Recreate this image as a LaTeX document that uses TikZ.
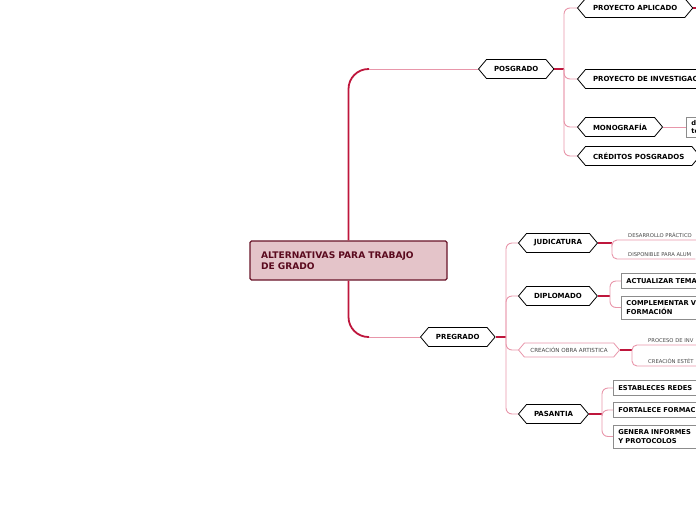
\documentclass[tikz,border=0pt]{standalone}
\usepackage{fontspec}
\setmainfont{DejaVu Sans}
\usetikzlibrary{shapes.symbols,positioning}
\definecolor{trunkred}{RGB}{190,22,60}
\definecolor{twigpink}{RGB}{232,150,170}
\definecolor{rootfill}{RGB}{228,196,201}
\definecolor{rootline}{RGB}{105,20,40}
\definecolor{roottext}{RGB}{90,10,30}
\definecolor{boxgray}{RGB}{140,140,140}
\definecolor{leafgray}{RGB}{70,70,70}

\begin{document}
\begin{tikzpicture}[x=1pt, y=-1pt,
  rootbox/.style={draw=rootline, line width=1.2pt, fill=rootfill, rounded corners=1.5pt, minimum width=197pt, minimum height=39pt, text width=175pt, align=left, inner xsep=0pt, text=roottext, font=\fontsize{9.1}{11}\selectfont\bfseries},
  hexnode/.style={signal, signal to=east and west, signal pointer angle=100, draw=black, line width=0.8pt, fill=white, minimum height=19pt, inner xsep=7.5pt, inner ysep=2pt, anchor=west, font=\fontsize{7}{8.5}\selectfont\bfseries},
  softhex/.style={hexnode, draw=twigpink, minimum height=14pt, inner xsep=6pt, text=leafgray, font=\fontsize{5.6}{7}\selectfont},
  leafbox/.style={draw=boxgray, line width=0.8pt, fill=white, anchor=west, text width=95pt, align=left, inner xsep=5pt, inner ysep=4.7pt, font=\fontsize{6.7}{8.7}\selectfont\bfseries},
  uleaf/.style={anchor=south west, inner xsep=4pt, inner ysep=2.5pt, text=leafgray, font=\fontsize{5.25}{6.5}\selectfont},
  trunk/.style={trunkred, line width=1.8pt, rounded corners=20pt},
  stub/.style={trunkred, line width=1.3pt},
  twig/.style={twigpink, line width=0.9pt, rounded corners=6pt}]
\useasboundingbox (0,0) rectangle (696,520);
\clip (0,0) rectangle (696,520);
% Root
\node[rootbox] (alt) at (348.5,260.5) {ALTERNATIVAS PARA TRABAJO\\DE GRADO};
\node[hexnode] (pos) at (478,69) {POSGRADO};
\node[hexnode] (pg) at (420,337) {PREGRADO};
\coordinate (ptop) at (369,69);
\coordinate (pbot) at (369,337);
\draw[trunk] (alt.north) |- (ptop);
\draw[twig] (ptop) -- (pos.west);
\draw[trunk] (alt.south) |- (pbot);
\draw[twig] (pbot) -- (pg.west);
% Posgrado branch
\coordinate (pj) at (564,69);
\draw[stub] (pos.east) -- (pj);
\foreach \n/\y/\t in {pa/8/PROYECTO APLICADO, pi/79/PROYECTO DE INVESTIGAC, mono/127/MONOGRAFÍA, cred/156/CRÉDITOS POSGRADOS} {
  \node[hexnode] (\n) at (577,\y) {\t};
  \draw[twig] (pj) |- (\n.west);
}
\coordinate (pax) at (712,8);
\draw[stub] (pa.east) -- (pax);
\node[leafbox, text width=20pt, inner ysep=3pt] (mdo) at (686,127) {do\\te};
\draw[twig] (mono.east) -- (mdo.west);
% Pregrado branch
\coordinate (gj) at (506,337);
\draw[stub] (pg.east) -- (gj);
\foreach \n/\y/\t in {jud/243/JUDICATURA, dip/296/DIPLOMADO, pas/414/PASANTIA} {
  \node[hexnode] (\n) at (518,\y) {\t};
  \draw[twig] (gj) |- (\n.west);
}
\node[softhex] (cre) at (518,350) {CREACIÓN OBRA ARTISTICA};
\draw[twig] (gj) |- (cre.west);
% Judicatura
\coordinate (jj) at (612,243);
\draw[stub] (jud.east) -- (jj);
\node[uleaf] (d1) at (624,240) {DESARROLLO PRÁCTICO};
\node[uleaf] (d2) at (624,259) {DISPONIBLE PARA ALUM};
\foreach \n in {d1,d2}
  \draw[twig, rounded corners=5pt] (jj) |- (\n.south west) -- (\n.south east);
% Diplomado
\coordinate (dj) at (610,296);
\draw[stub] (dip.east) -- (dj);
\node[leafbox] (b1) at (621,281) {ACTUALIZAR TEMA};
\node[leafbox] (b2) at (621,307.5) {COMPLEMENTAR V\\FORMACIÓN};
\foreach \n in {b1,b2}
  \draw[twig] (dj) |- (\n.west);
% Creacion obra artistica
\coordinate (cj) at (632,350);
\draw[stub] (cre.east) -- (cj);
\node[uleaf] (e1) at (644,345) {PROCESO DE INV};
\node[uleaf] (e2) at (644,366) {CREACIÓN ESTÉT};
\foreach \n in {e1,e2}
  \draw[twig, rounded corners=5pt] (cj) |- (\n.south west) -- (\n.south east);
% Pasantia
\coordinate (sj) at (602,414);
\draw[stub] (pas.east) -- (sj);
\node[leafbox] (c1) at (613,388) {ESTABLECES REDES};
\node[leafbox] (c2) at (613,410) {FORTALECE FORMAC};
\node[leafbox] (c3) at (613,436.5) {GENERA INFORMES\\Y PROTOCOLOS};
\foreach \n in {c1,c2,c3}
  \draw[twig] (sj) |- (\n.west);
\end{tikzpicture}
\end{document}
